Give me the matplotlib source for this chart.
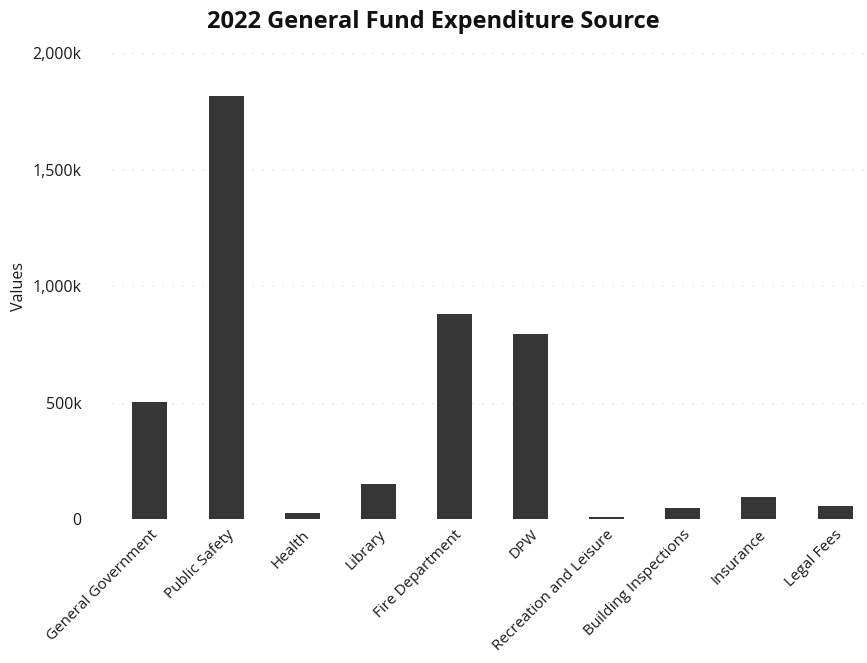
import matplotlib.pyplot as plt
from matplotlib.ticker import FuncFormatter

categories = ["General Government", "Public Safety", "Health", "Library",
              "Fire Department", "DPW", "Recreation and Leisure",
              "Building Inspections", "Insurance", "Legal Fees"]
values = [502000, 1815000, 26000, 150000, 880000, 793000, 8000, 48000, 95000, 58000]
yticks = [0, 500000, 1000000, 1500000, 2000000]

plt.rcParams['font.family'] = ['Open Sans', 'DejaVu Sans']

fig = plt.figure(figsize=(8.67, 6.63), dpi=100)
ax = fig.add_axes([0.129, 0.217, 0.871, 0.703])

x = range(len(categories))
ax.bar(x, values, width=0.46, color='#363636', zorder=2)

ax.set_xlim(-0.5, 9.42)
ax.set_ylim(0, 2000000)
ax.set_yticks(yticks)
ax.yaxis.set_major_formatter(FuncFormatter(lambda v, p: '0' if v == 0 else f'{v/1000:,.0f}k'))
ax.grid(axis='y', color='#d0d0d0', linestyle=(0, (1, 8)), linewidth=0.8, zorder=0)
ax.set_xticks(list(x))
ax.set_xticklabels(categories, rotation=45, ha='right', rotation_mode='anchor', fontsize=11)
ax.tick_params(axis='y', length=0, labelsize=11.5, colors='#1a1a1a', pad=22)
ax.tick_params(axis='x', length=0, colors='#1a1a1a', pad=6)
for s in ax.spines.values():
    s.set_visible(False)

ax.set_ylabel('Values', fontsize=11.5, labelpad=4, color='#1a1a1a')
fig.suptitle('2022 General Fund Expenditure Source', x=0.5, y=0.985, fontsize=17,
             fontweight='bold', color='#111111')

fig.savefig('out.png', dpi=100)
